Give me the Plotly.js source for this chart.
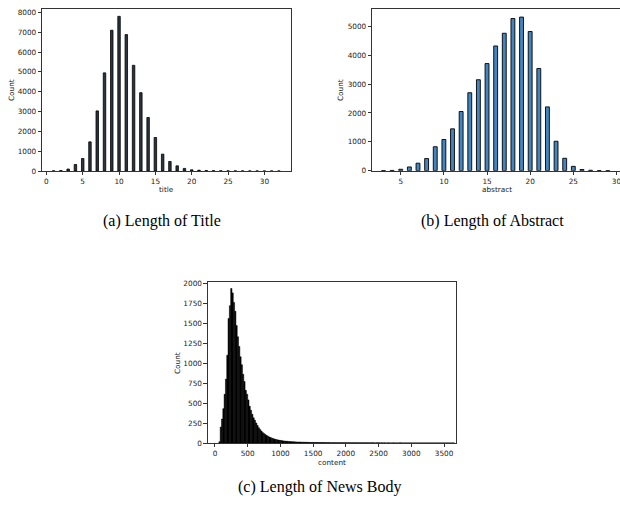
<!DOCTYPE html>
<html>
<head>
<meta charset="utf-8">
<script src="https://cdn.plot.ly/plotly-3.0.1.min.js"></script>
<style>html,body{margin:0;padding:0;background:#fff;}#chart{width:620px;height:506px;}</style>
</head>
<body>
<div id="chart"></div>
<script>
// (a) title length histogram
const titleLen = [1,2,3,4,5,6,7,8,9,10,11,12,13,14,15,16,17,18,19,20,21,22,23,24,25,26,27,28,29,30,31,32];
const titleCount = [8,20,100,330,630,1470,3030,4950,7100,7800,6880,5330,3950,2700,1690,850,480,260,130,60,40,20,15,10,6,4,3,2,2,1,1,1];

// (b) abstract length histogram
const abstractLen = [3,4,5,6,7,8,9,10,11,12,13,14,15,16,17,18,19,20,21,22,23,24,25,26,27,28,29];
const abstractCount = [5,10,50,130,260,420,830,1080,1450,2050,2700,3150,3710,4320,4760,5270,5320,4820,3540,2210,1020,430,150,40,15,5,2];

// (c) content length histogram (bins of 20 words starting at 60)
const contentBinStart = 60;
const contentBinWidth = 20;
const contentCount = [
  15,200,300,430,610,800,1100,1560,1720,1935,
  1880,1760,1650,1470,1330,1210,1080,980,860,770,
  660,610,540,460,410,360,315,285,250,220,
  190,168,150,130,118,105,95,85,76,68,
  61,55,50,45,41,37,34,31,28,26,
  24,22,21,19,18,17,16,15,14,13,
  12,12,11,10,10,9,9,8,8,7,
  7,7,
  6,6,6,6,5,5,5,5,5,5,
  4,5,4,4,4,4,4,4,3,4,
  3,4,3,3,3,3,3,3,3,2,
  3,3,2,3,2,2,3,2,2,2,
  2,2,2,2,2,2,2,1,2,2,
  2,1,2,1,2,1,1,2,1,1,
  1,2,1,1,1,1,2,1,1,1,
  1,1,1,1,1,1,1,1,1,1,
  1,1,1,1,1,1,1,1,1,1,
  1,1,1,1,1,1,1,1,1,1,
  1,1,1,1,1,1,1,1
];
const contentX = contentCount.map((_, i) => contentBinStart + contentBinWidth * (i + 0.5));

const W = 620, H = 506;
const px = x => x / W;
const py = y => 1 - y / H;

const tickFont = {family: 'DejaVu Sans', size: 7.3, color: '#222'};
function axis(extra) {
  return Object.assign({
    showgrid: false, zeroline: false, showline: true, mirror: true,
    linecolor: '#000', linewidth: 0.8,
    ticks: 'outside', ticklen: 3.5, tickwidth: 0.8, tickcolor: '#000',
    tickfont: tickFont, fixedrange: true, ticklabeloverflow: 'allow'
  }, extra);
}

const traces = [
  {type: 'bar', x: titleLen, y: titleCount, width: 0.34, xaxis: 'x', yaxis: 'y',
   marker: {color: '#2a3540', line: {color: '#000', width: 0.8}}, hoverinfo: 'skip'},
  {type: 'bar', x: abstractLen, y: abstractCount, width: 0.45, xaxis: 'x2', yaxis: 'y2',
   marker: {color: '#4285bf', line: {color: '#000', width: 0.9}}, hoverinfo: 'skip'},
  {type: 'bar', x: contentX, y: contentCount, width: contentBinWidth, xaxis: 'x3', yaxis: 'y3',
   marker: {color: '#000', line: {color: '#000', width: 0.5}}, hoverinfo: 'skip'}
];

const labFont = {family: 'DejaVu Sans', size: 7.3, color: '#222'};
const capFont = {family: 'Liberation Serif', size: 16, color: '#000'};
function ann(text, x, y, font, angle) {
  return {text: text, x: px(x), y: py(y), xref: 'paper', yref: 'paper',
          xanchor: 'center', yanchor: 'middle', showarrow: false, font: font,
          textangle: angle || 0};
}

const layout = {
  width: W, height: H,
  margin: {l: 0, r: 0, t: 0, b: 0},
  paper_bgcolor: '#fff', plot_bgcolor: '#fff',
  showlegend: false,
  xaxis: axis({domain: [px(42), px(291)], range: [-0.6, 33.66], tickvals: [0,5,10,15,20,25,30], anchor: 'y'}),
  yaxis: axis({domain: [py(171), py(9)], range: [0, 8170], tickvals: [0,1000,2000,3000,4000,5000,6000,7000,8000], anchor: 'x'}),
  xaxis2: axis({domain: [px(372), 1], range: [1.67, 30.41], tickvals: [5,10,15,20,25,30], anchor: 'y2'}),
  yaxis2: axis({domain: [py(170.7), py(9)], range: [0, 5600], tickvals: [0,1000,2000,3000,4000,5000], anchor: 'x2', mirror: false}),
  xaxis3: axis({domain: [px(207.7), px(456)], range: [-111, 3683], tickvals: [0,500,1000,1500,2000,2500,3000,3500], anchor: 'y3'}),
  yaxis3: axis({domain: [py(443), py(281.7)], range: [0, 2020], tickvals: [0,250,500,750,1000,1250,1500,1750,2000], anchor: 'x3'}),
  annotations: [
    ann('Count', 12, 90, labFont, -90),
    ann('title', 166.7, 189, labFont),
    ann('Count', 341, 90, labFont, -90),
    ann('abstract', 496.7, 189, labFont),
    ann('Count', 177, 363, labFont, -90),
    ann('content', 331.8, 462, labFont),
    ann('(a) Length of Title', 162, 221, capFont),
    ann('(b) Length of Abstract', 492, 221, capFont),
    ann('(c) Length of News Body', 320, 487, capFont)
  ]
};

Plotly.newPlot('chart', traces, layout, {displayModeBar: false, staticPlot: true});
</script>
</body>
</html>
